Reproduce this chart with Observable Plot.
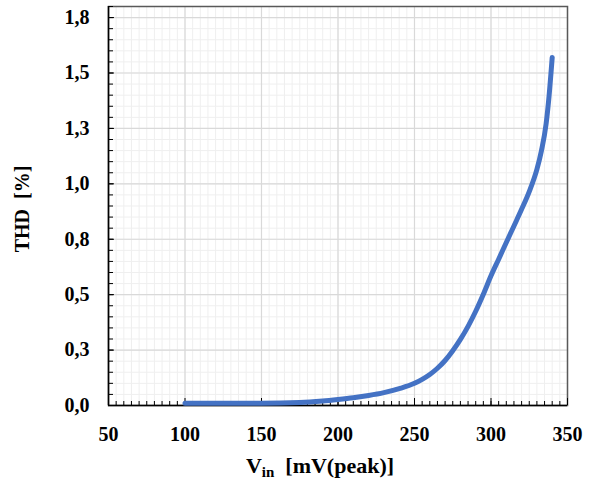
<!DOCTYPE html>
<html>
<head>
<meta charset="utf-8">
<script src="https://cdn.jsdelivr.net/npm/d3@7"></script>
<script src="https://cdn.jsdelivr.net/npm/@observablehq/plot@0.6"></script>
<style>
  html, body { margin: 0; padding: 0; background: #fff; }
  #chart { position: relative; width: 595px; height: 484px; }
  #xtitle { position: absolute; left: 45px; width: 550px; top: 453px; line-height: 26px; text-align: center;
    font-family: "Liberation Serif", "Times New Roman", serif; font-weight: bold; font-size: 22px; color: #000; white-space: pre; }
  #xtitle sub { font-size: 15px; vertical-align: -4px; line-height: 0; }
</style>
</head>
<body>
<div id="chart"></div>
<script>
// Data
const vin = [100, 125, 150, 175, 190, 200, 210, 220, 230, 240, 250, 255, 260, 265, 270, 275, 280, 285, 290, 295, 300, 305, 310, 315, 320, 325, 330, 333, 336, 338, 340];
const thd = [0.010, 0.010, 0.010, 0.013, 0.020, 0.027, 0.035, 0.045, 0.058, 0.076, 0.100, 0.118, 0.140, 0.168, 0.203, 0.247, 0.298, 0.357, 0.425, 0.502, 0.585, 0.660, 0.735, 0.810, 0.885, 0.965, 1.065, 1.150, 1.270, 1.400, 1.570];

const xTicks = [50, 100, 150, 200, 250, 300, 350];
const yTicks = [0, 0.25, 0.5, 0.75, 1.0, 1.25, 1.5, 1.75];
const yTickLabels = ["0,0", "0,3", "0,5", "0,8", "1,0", "1,3", "1,5", "1,8"];
const xMinor = d3.range(0, 61).map(i => 50 + i * 5);
const yMinor = d3.range(0, 37).map(i => i * 0.05);

const xLabel = "V<sub>in</sub>  [mV(peak)]";
const yLabel = "THD\u00A0\u00A0[%]";

const data = vin.map((v, i) => ({vin: v, thd: thd[i]}));

const W = 595, H = 450;
const mL = 108, mR = 28, mT = 6, mB = 45;
const plotW = W - mL - mR, plotH = H - mT - mB;

const chart = Plot.plot({
  width: W,
  height: H,
  marginLeft: mL,
  marginRight: mR,
  marginTop: mT,
  marginBottom: mB,
  style: {fontFamily: "'Liberation Serif', 'Times New Roman', serif", fontWeight: "bold", color: "#000", background: "#fff"},
  x: {domain: [50, 350]},
  y: {domain: [0, 1.8]},
  marks: [
    // minor grid
    Plot.ruleX(xMinor, {x: d => d, stroke: "#efefef", strokeWidth: 1}),
    Plot.ruleY(yMinor, {y: d => d, stroke: "#efefef", strokeWidth: 1}),
    // major grid
    Plot.ruleX(xTicks, {x: d => d, stroke: "#d9d9d9", strokeWidth: 1.2}),
    Plot.ruleY(yTicks, {y: d => d, stroke: "#d9d9d9", strokeWidth: 1.2}),
    // frame (top/right)
    Plot.frame({stroke: "#595959", strokeWidth: 1.5}),
    // inward ticks
    Plot.tickX(xMinor, {x: d => d, insetTop: plotH - 4, stroke: "#000", strokeWidth: 1}),
    Plot.tickX(xTicks, {x: d => d, insetTop: plotH - 7, stroke: "#000", strokeWidth: 1}),
    Plot.tickY(yMinor, {y: d => d, insetRight: plotW - 5, stroke: "#000", strokeWidth: 1}),
    Plot.tickY(yTicks, {y: d => d, insetRight: plotW - 6, stroke: "#000", strokeWidth: 1}),
    // axis lines
    Plot.ruleX([50], {stroke: "#000", strokeWidth: 1.5}),
    Plot.ruleY([0], {stroke: "#000", strokeWidth: 1.5}),
    // axes labels
    Plot.axisX({ticks: xTicks, tickSize: 0, tickPadding: 21, fontSize: 20, label: null}),
    Plot.axisY({ticks: yTicks, tickSize: 0, tickPadding: 19, fontSize: 20, label: null,
      tickFormat: d => yTickLabels[yTicks.indexOf(d)]}),
    Plot.text([yLabel], {text: d => d, frameAnchor: "left", textAnchor: "middle", lineAnchor: "middle", rotate: -90, dx: -86, dy: 3, fontSize: 20, fontWeight: "bold", fill: "#000"}),
    // data curve
    Plot.line(data, {x: "vin", y: "thd", curve: "monotone-x", stroke: "#4472C4", strokeWidth: 5, strokeLinecap: "round", strokeLinejoin: "round"})
  ]
});
const host = document.getElementById("chart");
host.appendChild(chart);
const xt = document.createElement("div");
xt.id = "xtitle";
xt.innerHTML = xLabel;
host.appendChild(xt);
</script>
</body>
</html>
